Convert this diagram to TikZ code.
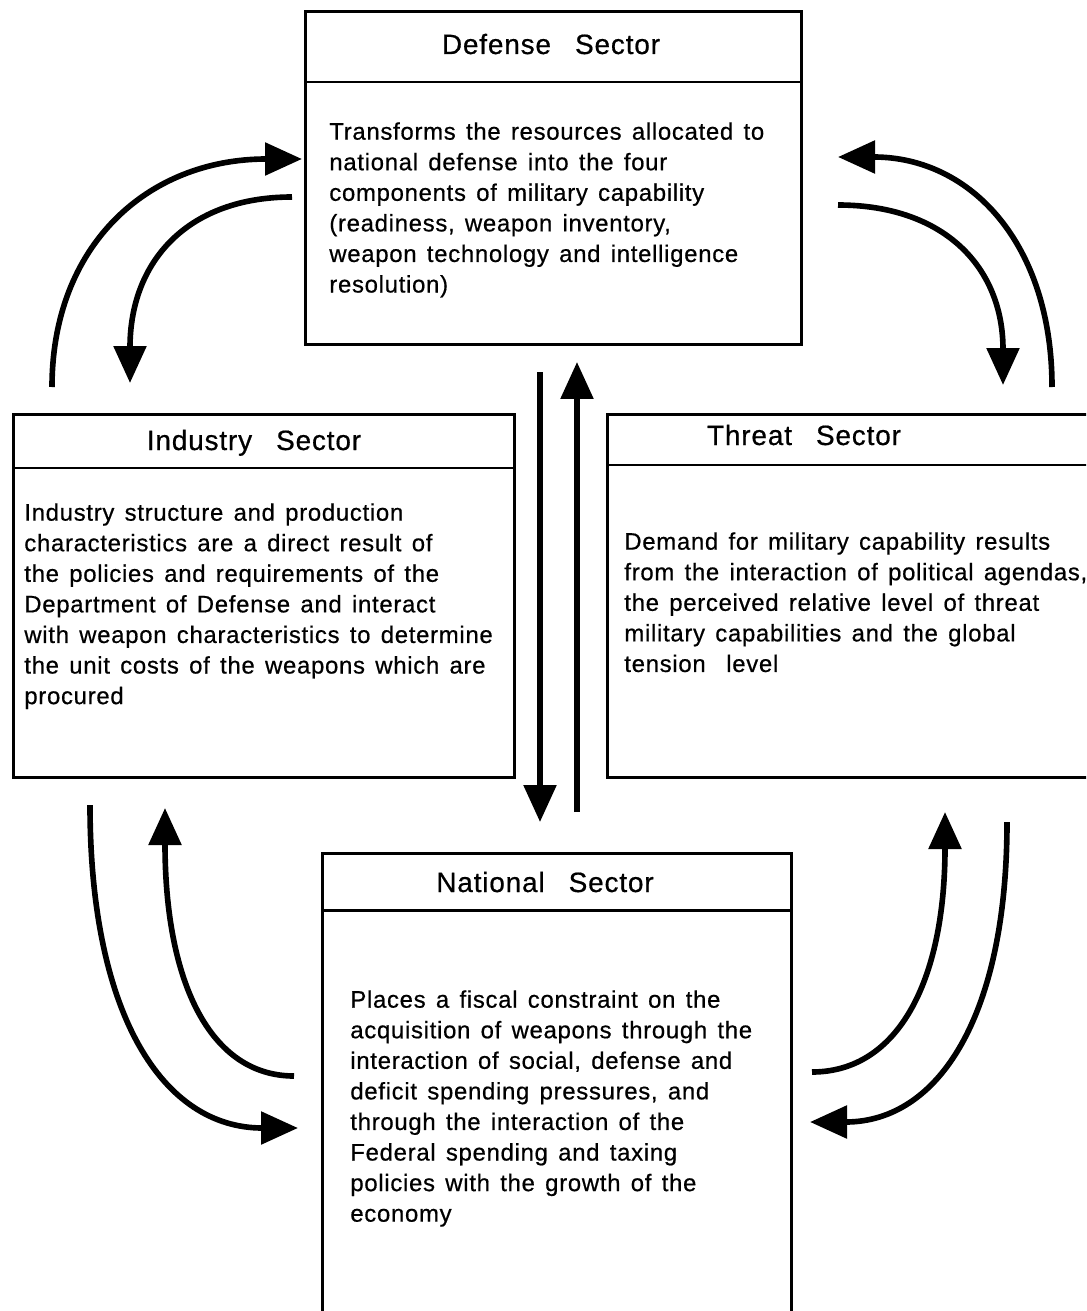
\documentclass[tikz,border=0pt]{standalone}
\usepackage{fontspec}
\setmainfont{Liberation Sans}
\newfontfamily\sectorfont[LetterSpace=3,WordSpace=1.4,FakeBold=0.6]{Liberation Sans}
\usetikzlibrary{arrows.meta}
\tikzset{sector/.style={rectangle,draw,line width=1.7pt,anchor=north west,inner sep=0pt},
         heading/.style={anchor=base,inner sep=0pt,font=\sectorfont\fontsize{15.9}{19}\selectfont},
         body/.style={anchor=north west,inner sep=0pt,align=left,font=\sectorfont\fontsize{13.6}{17.4}\selectfont},
         divider/.style={line width=1.7pt},
         arrow/.style={-{Triangle[length=0.74cm,width=0.64cm]},line width=3.2pt}}

\begin{document}
\begin{tikzpicture}[x=0.02cm,y=-0.02cm]
    \useasboundingbox (0,0) rectangle (1086,1311);
    \clip (0,0) rectangle (1086,1311);
    % sectors
    \node (def) [sector, minimum width=9.92cm, minimum height=6.66cm] at (304,10) {};
    \node (ind) [sector, minimum width=10.02cm, minimum height=7.26cm] at (12,413) {};
    \node (thr) [sector, minimum width=10.2cm, minimum height=7.26cm] at (606,413) {};
    \node (nat) [sector, minimum width=9.38cm, minimum height=9.8cm] at (321,852) {};
    \draw[divider] (def.west |- 0,82) -- (def.east |- 0,82);
    \draw[divider] (ind.west |- 0,468) -- (ind.east |- 0,468);
    \draw[divider] (thr.west |- 0,465) -- (thr.east |- 0,465);
    \draw[divider] (nat.west |- 0,910) -- (nat.east |- 0,910);
    \node (defhead) [heading] at (551,54) {Defense \ Sector};
    \node (indhead) [heading] at (254,450) {Industry \ Sector};
    \node (thrhead) [heading] at (804,445) {Threat \ Sector};
    \node (nathead) [heading] at (545,892) {National \ Sector};
    \node (deftxt) [body] at (329,122) {Transforms the resources allocated to\\
        national defense into the four\\
        components of military capability\\
        (readiness, weapon inventory,\\
        weapon technology and intelligence\\
        resolution)};
    \node (indtxt) [body] at (24,503) {Industry structure and production\\
        characteristics are a direct result of\\
        the policies and requirements of the\\
        Department of Defense and interact\\
        with weapon characteristics to determine\\
        the unit costs of the weapons which are\\
        procured};
    \node (thrtxt) [body] at (624,532) {Demand for military capability results\\
        from the interaction of political agendas,\\
        the perceived relative level of threat\\
        military capabilities and the global\\
        tension \ level};
    \node (nattxt) [body] at (350,990) {Places a fiscal constraint on the\\
        acquisition of weapons through the\\
        interaction of social, defense and\\
        deficit spending pressures, and\\
        through the interaction of the\\
        Federal spending and taxing\\
        policies with the growth of the\\
        economy};
    % arrow ends
    \coordinate (i2d-a) at (52,387);   \coordinate (i2d-b) at (302,159);
    \coordinate (d2i-a) at (292,197);  \coordinate (d2i-b) at (130,383);
    \coordinate (t2d-a) at (1052,387); \coordinate (t2d-b) at (838,157);
    \coordinate (d2t-a) at (838,205);  \coordinate (d2t-b) at (1003,385);
    \coordinate (i2n-a) at (90,805);   \coordinate (i2n-b) at (298,1128);
    \coordinate (n2i-a) at (294,1076); \coordinate (n2i-b) at (165,808);
    \coordinate (n2t-a) at (812,1072); \coordinate (n2t-b) at (945,812);
    \coordinate (t2n-a) at (1007,822); \coordinate (t2n-b) at (810,1122);
    \coordinate (d2n-a) at (540,372);  \coordinate (d2n-b) at (540,822);
    \coordinate (n2d-a) at (577,812);  \coordinate (n2d-b) at (577,362);
    \draw[arrow] (i2d-a) .. controls (52,246) and (147,159) .. (i2d-b);
    \draw[arrow] (d2i-a) .. controls (187,197) and (130,262) .. (d2i-b);
    \draw[arrow] (t2d-a) .. controls (1052,244) and (971,157) .. (t2d-b);
    \draw[arrow] (d2t-a) .. controls (945,205) and (1003,268) .. (d2t-b);
    \draw[arrow] (i2n-a) .. controls (90,1015) and (163,1128) .. (i2n-b);
    \draw[arrow] (n2i-a) .. controls (210,1076) and (165,982) .. (n2i-b);
    \draw[arrow] (n2t-a) .. controls (898,1072) and (945,981) .. (n2t-b);
    \draw[arrow] (t2n-a) .. controls (1007,1017) and (938,1122) .. (t2n-b);
    \draw[arrow] (d2n-a) -- (d2n-b);
    \draw[arrow] (n2d-a) -- (n2d-b);
\end{tikzpicture}
\end{document}
